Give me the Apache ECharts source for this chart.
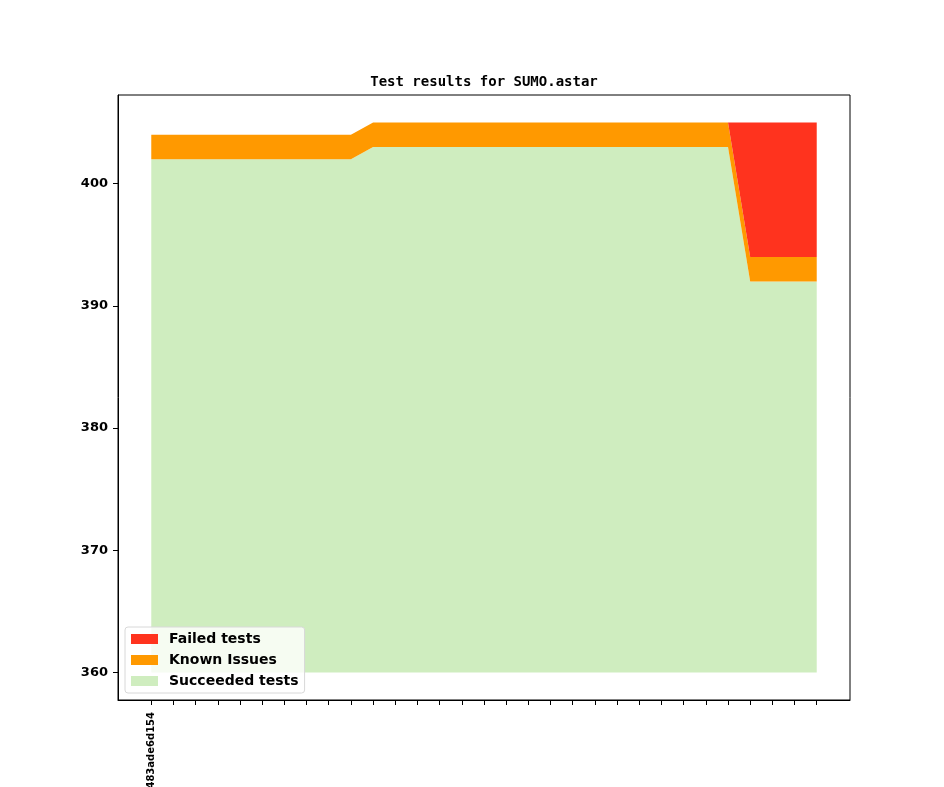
<!DOCTYPE html>
<html>
<head>
<meta charset="utf-8">
<script src="https://cdn.jsdelivr.net/npm/echarts@6/dist/echarts.min.js"></script>
<style>
  html, body { margin: 0; padding: 0; background: #fff; }
  #container { width: 944px; height: 787px; }
</style>
</head>
<body>
<div id="container"></div>
<script>
// one entry per commit, only the first hash is labelled
var categories = ['483ade6d154', '', '', '', '', '', '', '', '', '',
                  '', '', '', '', '', '', '', '', '', '',
                  '', '', '', '', '', '', '', '', '', '', ''];

var succeeded = [402, 402, 402, 402, 402, 402, 402, 402, 402, 402,
                 403, 403, 403, 403, 403, 403, 403, 403, 403, 403,
                 403, 403, 403, 403, 403, 403, 403, 392, 392, 392, 392];
var known = [2, 2, 2, 2, 2, 2, 2, 2, 2, 2,
             2, 2, 2, 2, 2, 2, 2, 2, 2, 2,
             2, 2, 2, 2, 2, 2, 2, 2, 2, 2, 2];
var failed = [0, 0, 0, 0, 0, 0, 0, 0, 0, 0,
              0, 0, 0, 0, 0, 0, 0, 0, 0, 0,
              0, 0, 0, 0, 0, 0, 0, 11, 11, 11, 11];
var yTicks = [360, 370, 380, 390, 400];

// matplotlib leaves a 5% margin on both sides of the x range;
// an empty slot at each end + boundaryGap gives the same 1.5 step gap
function pad(arr, filler) {
  return [filler].concat(arr, [filler]);
}
var nCat = categories.length + 2;

var dom = document.getElementById('container');
var myChart = echarts.init(dom);

var baseFont = 'DejaVu Sans';

function band(name, color, data, extra) {
  var s = {
    name: name,
    type: 'line',
    stack: 'total',
    data: pad(data, '-'),
    symbol: 'none',
    lineStyle: { width: 0 },
    itemStyle: { color: color },
    areaStyle: { color: color, opacity: 1 }
  };
  if (extra) s.areaStyle.origin = extra;
  return s;
}

var option = {
  animation: false,
  title: {
    text: 'Test results for SUMO.astar',
    left: 479,
    textAlign: 'center',
    top: 70,
    textStyle: {
      fontFamily: 'DejaVu Sans Mono',
      fontWeight: 'bold',
      fontSize: 14,
      color: '#000'
    }
  },
  legend: {
    data: ['Failed tests', 'Known Issues', 'Succeeded tests'],
    orient: 'vertical',
    left: 125,
    top: 627,
    icon: 'rect',
    itemWidth: 27,
    itemHeight: 10,
    itemGap: 7,
    padding: [5, 6, 5, 6],
    backgroundColor: 'rgba(255,255,255,0.8)',
    borderColor: '#d8d8d8',
    borderWidth: 1,
    borderRadius: 3,
    textStyle: {
      fontFamily: baseFont,
      fontWeight: 'bold',
      fontSize: 14,
      color: '#000',
      padding: [0, 0, 0, 6]
    }
  },
  grid: {
    left: 118,
    right: 94,
    top: 95,
    bottom: 87,
    outerBoundsMode: 'none',
    containLabel: false,
    show: true,
    borderColor: '#000',
    borderWidth: 1,
    backgroundColor: 'transparent'
  },
  xAxis: {
    type: 'category',
    data: pad(categories, ''),
    boundaryGap: true,
    splitLine: { show: false },
    axisLine: { show: true, onZero: false, lineStyle: { color: '#000', width: 1 } },
    axisTick: {
      show: true,
      length: 5,
      alignWithLabel: true,
      interval: function (idx) { return idx > 0 && idx < nCat - 1; },
      lineStyle: { color: '#000' }
    },
    axisLabel: {
      interval: function (idx) { return idx === 1; },
      rotate: 90,
      fontFamily: baseFont,
      fontWeight: 'bold',
      fontSize: 10,
      color: '#000',
      margin: 12
    }
  },
  yAxis: {
    type: 'value',
    min: 357.75,
    max: 407.25,
    splitLine: { show: false },
    axisLine: { show: true, onZero: false, lineStyle: { color: '#000', width: 1 } },
    axisTick: {
      show: true,
      length: 5,
      customValues: yTicks,
      lineStyle: { color: '#000' }
    },
    axisLabel: {
      customValues: yTicks,
      fontFamily: baseFont,
      fontWeight: 'bold',
      fontSize: 13,
      color: '#000',
      margin: 10
    }
  },
  series: [
    band('Succeeded tests', '#cfedbf', succeeded, 360),
    band('Known Issues', '#ff9900', known),
    band('Failed tests', '#ff331e', failed)
  ]
};

myChart.setOption(option);
</script>
</body>
</html>
